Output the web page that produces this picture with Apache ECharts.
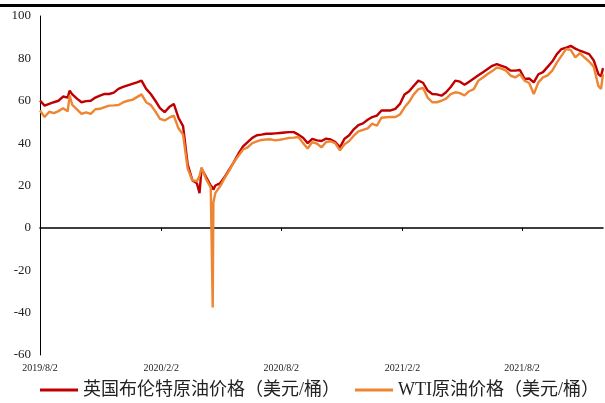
<!DOCTYPE html>
<html>
<head>
<meta charset="utf-8">
<script src="https://cdn.jsdelivr.net/npm/echarts@6/dist/echarts.min.js"></script>
<style>
  html, body { margin: 0; padding: 0; background: #fff; }
  #chart { width: 605px; height: 403px; }
</style>
</head>
<body>
<div id="chart"></div>
<script>
// Trading dates (weekly, plus a few extra days around sharp moves)
const dates = [
  '2019/8/2','2019/8/9','2019/8/16','2019/8/23','2019/8/30','2019/9/6','2019/9/13','2019/9/16','2019/9/20','2019/9/27',
  '2019/10/4','2019/10/11','2019/10/18','2019/10/25','2019/11/1','2019/11/8','2019/11/15','2019/11/22','2019/11/29','2019/12/6',
  '2019/12/13','2019/12/20','2019/12/27','2020/1/3','2020/1/10','2020/1/17','2020/1/24','2020/1/31','2020/2/7','2020/2/14',
  '2020/2/21','2020/2/28','2020/3/6','2020/3/13','2020/3/20','2020/3/27','2020/3/31','2020/4/3','2020/4/10','2020/4/17',
  '2020/4/20','2020/4/21','2020/4/24','2020/5/1','2020/5/8','2020/5/15','2020/5/22','2020/5/29','2020/6/5','2020/6/12',
  '2020/6/19','2020/6/26','2020/7/3','2020/7/10','2020/7/17','2020/7/24','2020/7/31','2020/8/7','2020/8/14','2020/8/21',
  '2020/8/28','2020/9/4','2020/9/11','2020/9/18','2020/9/25','2020/10/2','2020/10/9','2020/10/16','2020/10/23','2020/10/30',
  '2020/11/6','2020/11/13','2020/11/20','2020/11/27','2020/12/4','2020/12/11','2020/12/18','2020/12/25','2021/1/1','2021/1/8',
  '2021/1/15','2021/1/22','2021/1/29','2021/2/5','2021/2/12','2021/2/19','2021/2/26','2021/3/5','2021/3/12','2021/3/19',
  '2021/3/26','2021/4/2','2021/4/9','2021/4/16','2021/4/23','2021/4/30','2021/5/7','2021/5/14','2021/5/21','2021/5/28',
  '2021/6/4','2021/6/11','2021/6/18','2021/6/25','2021/7/2','2021/7/9','2021/7/16','2021/7/23','2021/7/30','2021/8/6',
  '2021/8/13','2021/8/20','2021/8/27','2021/9/3','2021/9/10','2021/9/17','2021/9/24','2021/10/1','2021/10/8','2021/10/15',
  '2021/10/22','2021/10/29','2021/11/5','2021/11/12','2021/11/19','2021/11/26','2021/11/30','2021/12/3'
];

// Brent crude, USD per barrel
const brent = [
  60.1,57.7,58.5,59.3,60.0,62.0,61.5,64.8,63.0,61.0,
  59.3,59.8,60.0,61.5,62.4,63.2,63.2,63.8,65.6,66.5,
  67.3,68.0,68.7,69.5,65.6,63.2,60.0,56.5,54.6,57.0,
  58.5,52.0,48.0,30.0,22.5,21.0,16.4,28.0,24.0,20.0,
  19.0,18.0,20.0,21.0,24.0,27.5,31.0,35.0,38.5,40.5,
  42.5,43.7,44.0,44.4,44.4,44.6,44.8,45.0,45.2,45.2,
  44.0,42.5,40.0,42.0,41.3,41.0,42.1,41.7,40.5,38.0,
  42.1,43.7,46.5,48.5,49.3,51.0,52.3,53.0,55.4,55.4,
  55.4,56.2,58.5,63.0,64.5,67.1,69.5,68.5,64.8,63.2,
  63.0,62.4,64.0,66.5,69.5,69.0,67.5,69.0,70.5,72.0,
  73.5,75.0,76.5,77.3,76.5,75.7,74.2,74.2,74.5,70.3,
  70.5,68.7,72.5,73.5,76.0,78.5,82.0,84.4,85.0,85.9,
  84.6,83.6,82.8,82.0,79.0,72.6,71.5,75.4
];

// WTI crude, USD per barrel
const wti = [
  55.4,52.3,54.8,54.2,55.1,56.5,55.0,62.4,58.0,55.9,
  53.8,54.5,53.8,56.0,56.2,57.0,57.7,57.8,58.0,59.2,
  60.0,60.4,61.7,63.0,59.3,58.0,55.0,51.5,50.7,52.0,
  53.0,47.0,44.0,28.0,22.5,22.0,24.5,28.5,23.0,19.0,
  -37.6,12.0,16.5,19.5,23.5,27.0,31.0,34.0,37.0,38.0,
  40.0,40.8,41.5,41.7,41.8,41.3,41.6,42.0,42.5,42.6,
  42.9,40.0,37.5,40.5,39.8,38.0,40.5,40.9,39.9,36.6,
  39.5,41.0,43.5,45.5,46.3,47.0,49.2,48.2,52.0,52.2,
  52.4,52.3,53.5,56.9,59.5,63.0,65.5,66.0,61.5,59.3,
  59.3,60.0,61.0,63.1,64.0,63.6,62.5,64.5,65.5,69.5,
  71.0,72.6,74.0,75.7,75.2,74.2,71.8,71.0,72.5,69.5,
  68.4,63.2,68.7,71.0,72.0,74.2,78.0,81.2,84.4,84.0,
  80.5,82.5,80.4,78.5,76.0,67.0,65.6,72.6
];

// Date axis labels
const tickLabels = ['2019/8/2', '2020/2/2', '2020/8/2', '2021/2/2', '2021/8/2'];

const seriesNames = ['英国布伦特原油价格（美元/桶）', 'WTI原油价格（美元/桶）'];

const toTime = s => {
  const [y, m, d] = s.split('/').map(Number);
  return new Date(y, m - 1, d).getTime();
};
const fmtDate = v => {
  const d = new Date(v);
  return d.getFullYear() + '/' + (d.getMonth() + 1) + '/' + d.getDate();
};

const times = dates.map(toTime);
const tickTimes = tickLabels.map(toTime);
const xMin = times[0];
const xMax = times[times.length - 1];

const serif = '"Liberation Serif", "Times New Roman", "Noto Sans CJK SC", serif';

const chart = echarts.init(document.getElementById('chart'), null, { renderer: 'canvas' });
chart.setOption({
  animation: false,
  backgroundColor: '#ffffff',
  graphic: [
    { type: 'rect', left: 0, top: 4, shape: { width: 605, height: 3 }, style: { fill: '#000' }, silent: true }
  ],
  grid: { left: 40, right: 2, top: 16, bottom: 48, containLabel: false },
  legend: {
    bottom: -1,
    left: 35,
    icon: 'rect',
    itemWidth: 38,
    itemHeight: 3,
    itemGap: 15,
    textStyle: { fontFamily: serif, fontSize: 18, color: '#222' },
    data: seriesNames
  },
  xAxis: [
    {
      type: 'value',
      min: xMin,
      max: xMax,
      position: 'bottom',
      axisLine: { onZero: true, lineStyle: { color: '#000', width: 1.6 } },
      axisTick: { show: true, customValues: tickTimes, length: 3, lineStyle: { color: '#000', width: 1 } },
      axisLabel: { show: false },
      splitLine: { show: false }
    },
    {
      type: 'value',
      min: xMin,
      max: xMax,
      position: 'bottom',
      axisLine: { show: false, onZero: false },
      axisTick: { show: false },
      axisLabel: {
        show: true,
        customValues: tickTimes,
        formatter: v => fmtDate(v),
        fontFamily: serif,
        fontSize: 10,
        color: '#222',
        margin: 8,
        showMinLabel: true,
        showMaxLabel: true
      },
      splitLine: { show: false }
    }
  ],
  yAxis: {
    type: 'value',
    min: -60,
    max: 100,
    interval: 20,
    axisLine: { show: true, lineStyle: { color: '#000', width: 1 } },
    axisTick: { show: false },
    axisLabel: { fontFamily: serif, fontSize: 13, color: '#222', margin: 9 },
    splitLine: { show: false }
  },
  series: [
    {
      name: seriesNames[0],
      type: 'line',
      xAxisIndex: 0,
      data: times.map((t, i) => [t, brent[i]]),
      showSymbol: false,
      lineStyle: { color: '#C00000', width: 2.4 },
      itemStyle: { color: '#C00000' }
    },
    {
      name: seriesNames[1],
      type: 'line',
      xAxisIndex: 0,
      data: times.map((t, i) => [t, wti[i]]),
      showSymbol: false,
      lineStyle: { color: '#EE8533', width: 2.4 },
      itemStyle: { color: '#EE8533' }
    }
  ]
});
</script>
</body>
</html>
